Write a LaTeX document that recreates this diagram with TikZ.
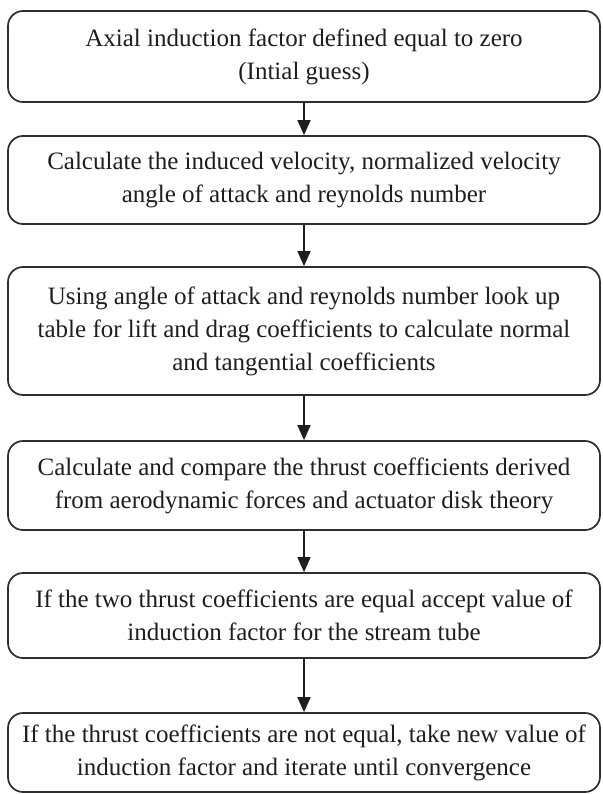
\documentclass[tikz,border=0pt]{standalone}
\usepackage{fontspec}
\setmainfont{Liberation Serif}
\usetikzlibrary{arrows.meta}
\definecolor{edge}{HTML}{2E2E2E}
\definecolor{ink}{HTML}{1E1E1E}
\tikzset{
  stepbox/.style={draw=edge, line width=1.7pt, rounded corners=15pt,
    minimum width=592pt, inner sep=0pt, align=center, text=ink,
    font=\fontsize{25}{33}\selectfont},
  flow/.style={draw=ink, line width=1.4pt, -{Triangle[length=15pt,width=13pt]}}
}
\begin{document}
\begin{tikzpicture}[x=1pt,y=-1pt]
  \useasboundingbox (0,0) rectangle (602,794);
  \node[stepbox, minimum height=91pt] (b1) at (304,56.5)
    {Axial induction factor defined equal to zero\\(Intial guess)};
  \node[stepbox, minimum height=88pt] (b2) at (304,180)
    {Calculate the induced velocity, normalized velocity\\angle of attack and reynolds number};
  \node[stepbox, minimum height=128pt] (b3) at (304,331)
    {Using angle of attack and reynolds number look up\\table for lift and drag coefficients to calculate normal\\and tangential coefficients};
  \node[stepbox, minimum height=89pt] (b4) at (304,485.5)
    {Calculate and compare the thrust coefficients derived\\from aerodynamic forces and actuator disk theory};
  \node[stepbox, minimum height=85pt] (b5) at (304,615.5)
    {If the two thrust coefficients are equal accept value of\\induction factor for the stream tube};
  \node[stepbox, minimum height=79pt] (b6) at (304,752.5)
    {If the thrust coefficients are not equal, take new value of\\induction factor and iterate until convergence};
  \draw[flow] (b1.south) -- (b2.north);
  \draw[flow] (b2.south) -- (b3.north);
  \draw[flow] (b3.south) -- (b4.north);
  \draw[flow] (b4.south) -- (b5.north);
  \draw[flow] (b5.south) -- (b6.north);
\end{tikzpicture}
\end{document}
